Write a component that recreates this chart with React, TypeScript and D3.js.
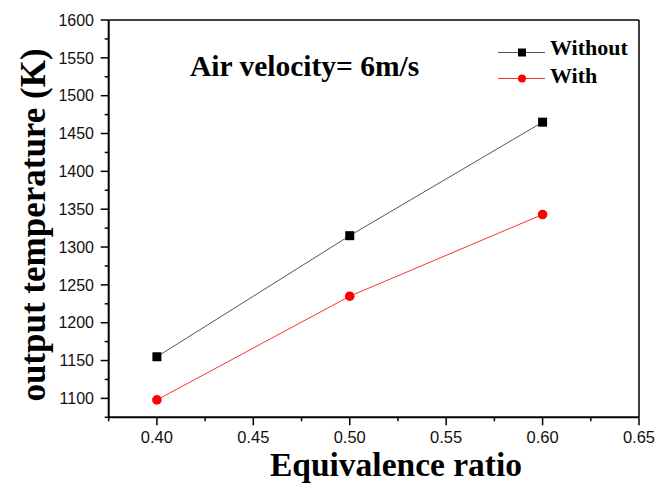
import React from "react";
import * as d3 from "d3";

const xValues = [0.4, 0.5, 0.6];
const withoutValues = [1155, 1315, 1465];
const withValues = [1098, 1235, 1343];
const xTicks = [0.4, 0.45, 0.5, 0.55, 0.6, 0.65];
const yTicks = [1100, 1150, 1200, 1250, 1300, 1350, 1400, 1450, 1500, 1550, 1600];
const seriesNames = ["Without", "With"];
const annotation = "Air velocity= 6m/s";
const xLabel = "Equivalence ratio";
const yLabel = "output temperature (K)";

const W = 657, H = 486;
const left = 108.7, right = 639, top = 20, bottom = 417.3;

export default function App() {
  const x = d3.scaleLinear().domain([0.375, 0.65]).range([left, right]);
  const y = d3.scaleLinear().domain([1075, 1600]).range([bottom, top]);
  const line = d3.line<[number, number]>().x(d => x(d[0])).y(d => y(d[1]));
  const xMinor = d3.range(0.375, 0.651, 0.025);
  const yMinor = d3.range(1075, 1601, 25);
  const serif = "'Liberation Serif', 'Times New Roman', serif";
  const sans = "'Liberation Sans', Arial, sans-serif";
  const ptsA = xValues.map((v, i) => [v, withoutValues[i]] as [number, number]);
  const ptsB = xValues.map((v, i) => [v, withValues[i]] as [number, number]);
  return (
    <svg width={W} height={H} style={{ position: "absolute", left: 0, top: 0, background: "#fff" }}>
      {/* frame */}
      <line x1={left} x2={right} y1={top} y2={top} stroke="#000" strokeWidth={1.5} />
      <line x1={right} x2={right} y1={top} y2={bottom} stroke="#000" strokeWidth={1.5} />
      <line x1={left} x2={left} y1={top} y2={bottom} stroke="#000" strokeWidth={2} />
      <line x1={left} x2={right} y1={bottom} y2={bottom} stroke="#000" strokeWidth={2} />
      {/* y ticks */}
      {yMinor.map((v, i) => (
        <line key={"ym" + i} x1={left} x2={left - (v % 50 === 0 ? 8 : 4)} y1={y(v)} y2={y(v)} stroke="#000" strokeWidth={1.5} />
      ))}
      {yTicks.map(v => (
        <text key={"yt" + v} x={94} y={y(v)} dy="0.36em" textAnchor="end" fontFamily={sans} fontSize={16} fill="#111">{v}</text>
      ))}
      {/* x ticks */}
      {xMinor.map((v, i) => {
        const major = Math.abs(Math.round(v / 0.05) * 0.05 - v) < 1e-6;
        return <line key={"xm" + i} x1={x(v)} x2={x(v)} y1={bottom} y2={bottom + (major ? 8 : 4)} stroke="#000" strokeWidth={1.5} />;
      })}
      {xTicks.map(v => (
        <text key={"xt" + v} x={x(v)} y={443} textAnchor="middle" fontFamily={sans} fontSize={16.5} fill="#111">{v.toFixed(2)}</text>
      ))}
      {/* series */}
      <path d={line(ptsA) || ""} fill="none" stroke="#555" strokeWidth={1} />
      <path d={line(ptsB) || ""} fill="none" stroke="#ff3030" strokeWidth={1} />
      {ptsA.map((p, i) => (
        <rect key={"a" + i} x={x(p[0]) - 4.5} y={y(p[1]) - 4.5} width={9} height={9} fill="#000" />
      ))}
      {ptsB.map((p, i) => (
        <circle key={"b" + i} cx={x(p[0])} cy={y(p[1])} r={4.8} fill="#ff0000" />
      ))}
      {/* legend */}
      <line x1={498} x2={545} y1={52.5} y2={52.5} stroke="#555" strokeWidth={1} />
      <rect x={518} y={48.5} width={8} height={8} fill="#000" />
      <text x={550} y={55} fontFamily={serif} fontWeight="bold" fontSize={22} fill="#000">{seriesNames[0]}</text>
      <line x1={498} x2={545} y1={78.5} y2={78.5} stroke="#ff3030" strokeWidth={1} />
      <circle cx={522} cy={78.5} r={4} fill="#ff0000" />
      <text x={550} y={82.5} fontFamily={serif} fontWeight="bold" fontSize={22} fill="#000">{seriesNames[1]}</text>
      {/* annotation */}
      <text x={190} y={76} fontFamily={serif} fontWeight="bold" fontSize={29.5} fill="#000">{annotation}</text>
      {/* axis labels */}
      <text x={396} y={476} textAnchor="middle" fontFamily={serif} fontWeight="bold" fontSize={33.5} fill="#000">{xLabel}</text>
      <text transform={`translate(45, 225) rotate(-90)`} textAnchor="middle" fontFamily={serif} fontWeight="bold" fontSize={35} fill="#000">{yLabel}</text>
    </svg>
  );
}
